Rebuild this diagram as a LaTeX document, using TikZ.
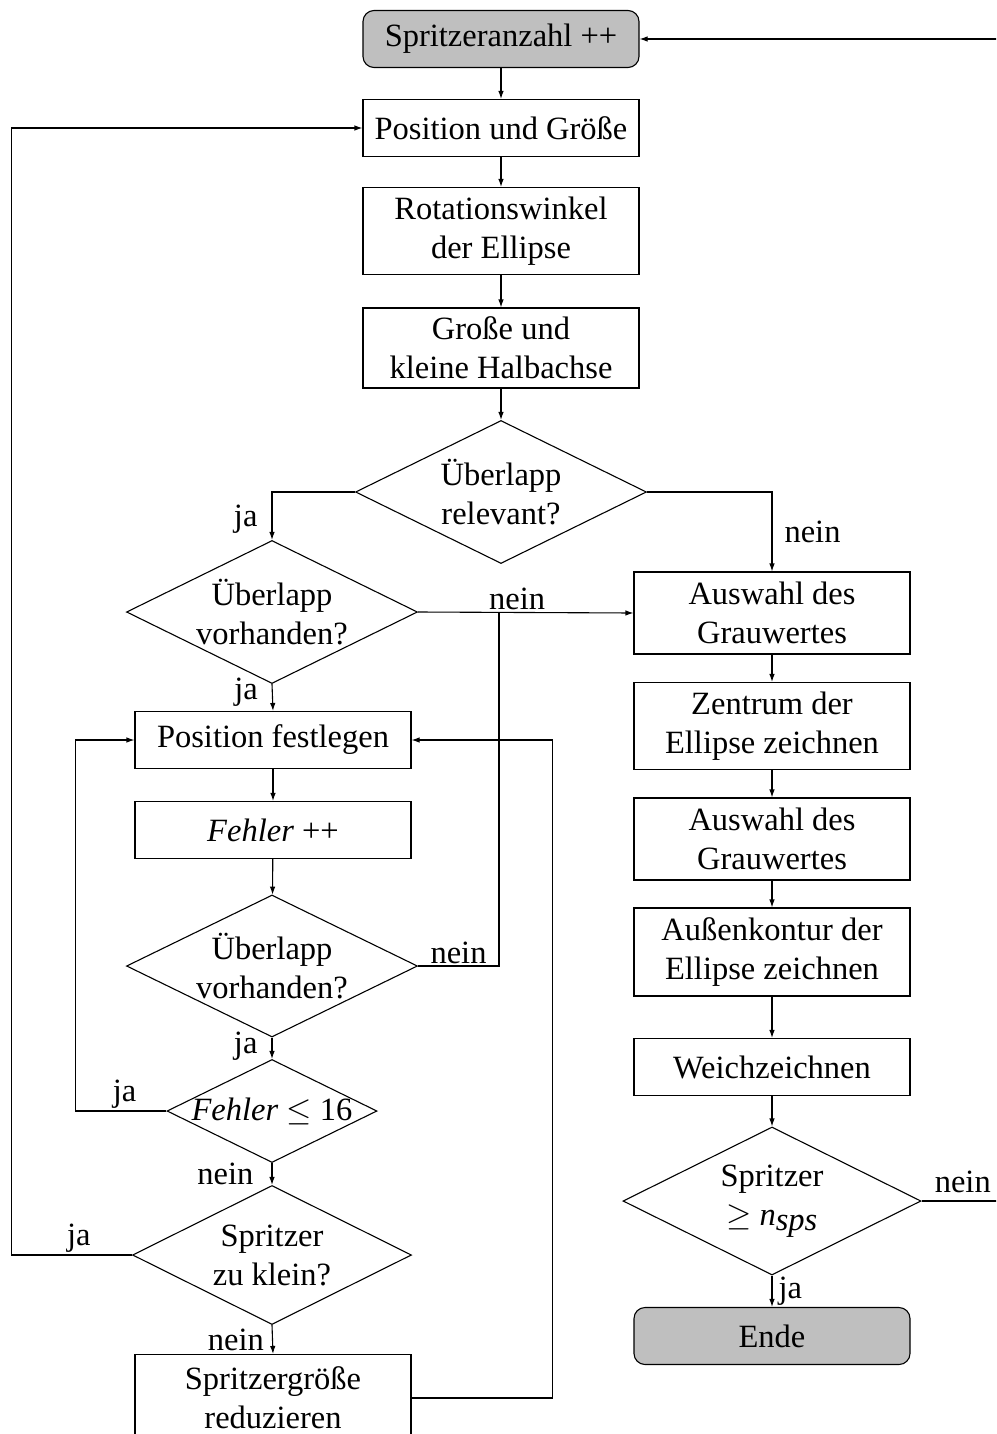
\documentclass[tikz,border=0pt]{standalone}
\usepackage{fix-cm}
\usepackage{fontspec}
\setmainfont{Liberation Serif}
\usetikzlibrary{shapes.geometric,arrows.meta}
\begin{document}
\begin{tikzpicture}[x=1pt,y=-1pt,
  font=\fontsize{32.5}{39}\selectfont,
  every node/.style={inner sep=0pt},
  box/.style={draw, line width=1.1pt, minimum width=276, align=center},
  one/.style={box, minimum height=57},
  two/.style={box, minimum height=85},
  term/.style={one, fill=gray!50, rounded corners=11pt},
  dia/.style={draw, diamond, line width=1.1pt},
  conn/.style={line width=1.1pt, -{Latex[length=8pt,width=5.5pt]}},
  line/.style={line width=1.1pt},
  lab/.style={inner sep=2pt},
  labl/.style={lab, left, xshift=-12pt},
  labr/.style={lab, right, xshift=10pt}
]
\clip (0,0) rectangle (996,1434);

% main column
\node[term] (start) at (501,39) {Spritzeranzahl ++};
\node[one] (pos) at (501,128) {Position und Größe};
\node[two, minimum height=87] (rot) at (501,231) {Rotationswinkel\\der Ellipse};
\node[two, minimum height=80] (halb) at (501,348) {Große und\\kleine Halbachse};
\node[dia, minimum width=291, minimum height=143,
  label={[align=center]center:Überlapp\\relevant?}] (rel) at (501,492) {};

% left branch: overlap handling
\node[dia, minimum width=291, minimum height=143,
  label={[align=center]center:Überlapp\\vorhanden?}] (vor1) at (272,612) {};
\node[one] (fest) at (273,740) {Position festlegen};
\node[one] (fehl) at (273,830) {\textit{Fehler} ++};
\node[dia, minimum width=291, minimum height=142,
  label={[align=center]center:Überlapp\\vorhanden?}] (vor2) at (272,966) {};
\node[dia, minimum width=210, minimum height=103,
  label={center:\textit{Fehler} $\leq$ 16}] (lim) at (272,1111) {};
\node[dia, minimum width=279, minimum height=139,
  label={[align=center]center:Spritzer\\zu klein?}] (klein) at (272,1255) {};
\node[two, minimum height=87] (red) at (273,1398) {Spritzergröße\\reduzieren};

% right branch: drawing the ellipse
\node[two, minimum height=82] (grau1) at (772,613) {Auswahl des\\Grauwertes};
\node[two, minimum height=87] (zent) at (772,726) {Zentrum der\\Ellipse zeichnen};
\node[two, minimum height=82] (grau2) at (772,839) {Auswahl des\\Grauwertes};
\node[two, minimum height=88] (kont) at (772,952) {Außenkontur der\\Ellipse zeichnen};
\node[one] (weich) at (772,1067) {Weichzeichnen};
\node[dia, minimum width=298, minimum height=148,
  label={[align=center]center:Spritzer\\$\geq$ \textit{n}$_{\textit{sps}}$}] (anz) at (772,1201) {};
\node[term] (ende) at (772,1336) {Ende};

\coordinate (j1) at (499,612);
\coordinate (out) at (1030,1201);

% straight flow
\draw[conn] (start) -- (pos);
\draw[conn] (pos) -- (rot);
\draw[conn] (rot) -- (halb);
\draw[conn] (halb) -- (rel);
\draw[conn] (fest) -- (fehl);
\draw[conn] (fehl) -- (vor2);
\draw[conn] (grau1) -- (zent);
\draw[conn] (zent) -- (grau2);
\draw[conn] (grau2) -- (kont);
\draw[conn] (kont) -- (weich);
\draw[conn] (weich) -- (anz);

% decisions
\draw[conn] (rel.west) -| node[labl, pos=0.78] {ja} (vor1.north);
\draw[conn] (rel.east) -| node[labr, pos=0.75] {nein} (grau1.north);
\draw[conn] (vor1.east) -- node[lab, pos=0.46, above] {nein} (grau1.west);
\draw[conn] (vor1.south) -- node[labl, pos=0.3] {ja} (fest.north);
\draw[line] (vor2.east) -| node[lab, pos=0.25, above] {nein} (j1);
\draw[conn] (vor2.south) -- node[labl, pos=0.4] {ja} (lim.north);
\draw[conn] (lim.west) -| node[lab, pos=0.23, above] {ja} ([xshift=-59pt]fest.west) -- (fest.west);
\draw[conn] (lim.south) -- node[labl, xshift=-4pt] {nein} (klein.north);
\draw[conn] (klein.west) -| node[lab, pos=0.22, above] {ja} ([xshift=-351pt]pos.west) -- (pos.west);
\draw[conn] (klein.south) -- node[lab, left, xshift=-6pt] {nein} (red.north);
\draw[conn] (red.east) -| ([xshift=141pt]fest.east) -- (fest.east);
\draw[conn] (anz.south) -- node[lab, right, xshift=4pt] {ja} (ende.north);
\draw[line] (anz.east) -- node[lab, pos=0.38, above, yshift=6pt] {nein} (out);
\draw[conn] (out) |- (start.east);
\end{tikzpicture}
\end{document}
